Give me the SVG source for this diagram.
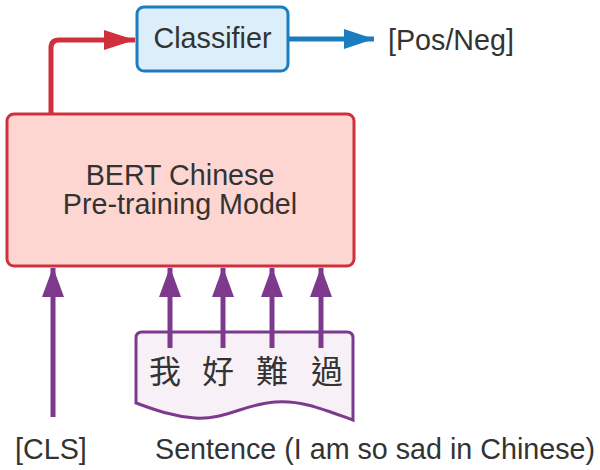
<svg xmlns="http://www.w3.org/2000/svg" width="600" height="470" viewBox="0 0 600 470">
  <defs>
    <style>
      .lbl { font-family: "Liberation Sans", Arial, sans-serif; font-size: 28.7px; fill: #333333; }
      .cjk { font-family: "Noto Sans CJK TC", "Noto Sans CJK SC", sans-serif; font-size: 32px; fill: #333333; }
      .red { stroke: #d0303c; stroke-width: 5; fill: none; }
      .blue { stroke: #1b7dc0; stroke-width: 5; fill: none; }
      .purple { stroke: #7d3a8d; stroke-width: 5; fill: none; }
    </style>
    <marker id="arrRed" markerUnits="userSpaceOnUse" markerWidth="31" markerHeight="20" refX="31" refY="10" orient="auto">
      <path d="M0,0 L31,10 L0,20 Z" fill="#d0303c"/>
    </marker>
    <marker id="arrBlue" markerUnits="userSpaceOnUse" markerWidth="30" markerHeight="20" refX="30" refY="10" orient="auto">
      <path d="M0,0 L30,10 L0,20 Z" fill="#1b7dc0"/>
    </marker>
    <marker id="arrPurple" markerUnits="userSpaceOnUse" markerWidth="30" markerHeight="22" refX="29" refY="11" orient="auto">
      <path d="M0,0 L30,11 L0,22 Z" fill="#7d3a8d"/>
    </marker>
  </defs>
  <rect width="600" height="470" fill="#ffffff"/>

  <g id="document">
    <path d="M136,338 Q136,332 142,332 L347,332 Q353,332 353,338 L353,420 C320,408 300,400 275,402 C245,404 225,420 195,418 C170,416 150,408 136,403 Z" fill="#f7f0f7" stroke="#7d3a8d" stroke-width="3"/>
  </g>

  <g id="connectors">
    <path class="red" d="M51,115 L51,48 Q51,40 59,40 L135,40" marker-end="url(#arrRed)"/>
    <path class="blue" d="M289,39 L374,39" marker-end="url(#arrBlue)"/>
    <path class="purple" d="M53,417 L53,268" marker-end="url(#arrPurple)"/>
    <path class="purple" d="M170,348 L170,268" marker-end="url(#arrPurple)"/>
    <path class="purple" d="M223,348 L223,268" marker-end="url(#arrPurple)"/>
    <path class="purple" d="M272,348 L272,268" marker-end="url(#arrPurple)"/>
    <path class="purple" d="M321,348 L321,268" marker-end="url(#arrPurple)"/>
  </g>

  <g id="classifier">
    <rect x="137" y="7" width="151" height="64" rx="7" fill="#dbeefa" stroke="#1b7dc0" stroke-width="3"/>
    <text class="lbl" x="212.5" y="48" text-anchor="middle">Classifier</text>
  </g>

  <g id="bert">
    <rect x="7" y="114" width="347" height="152" rx="7" fill="#fdd6d2" stroke="#d0303c" stroke-width="3"/>
    <text class="lbl" x="180" y="185" text-anchor="middle">BERT Chinese</text>
    <text class="lbl" x="180" y="214" text-anchor="middle">Pre-training Model</text>
  </g>

  <g id="tokens">
    <text class="cjk" x="165" y="383" text-anchor="middle">我</text>
    <text class="cjk" x="218" y="383" text-anchor="middle">好</text>
    <text class="cjk" x="272" y="383" text-anchor="middle">難</text>
    <text class="cjk" x="327" y="383" text-anchor="middle">過</text>
  </g>

  <g id="output">
    <text class="lbl" x="388" y="50">[Pos/Neg]</text>
  </g>

  <g id="cls">
    <text class="lbl" x="15" y="459">[CLS]</text>
  </g>

  <g id="sentence">
    <text class="lbl" x="155" y="459">Sentence (I am so sad in Chinese)</text>
  </g>
</svg>
